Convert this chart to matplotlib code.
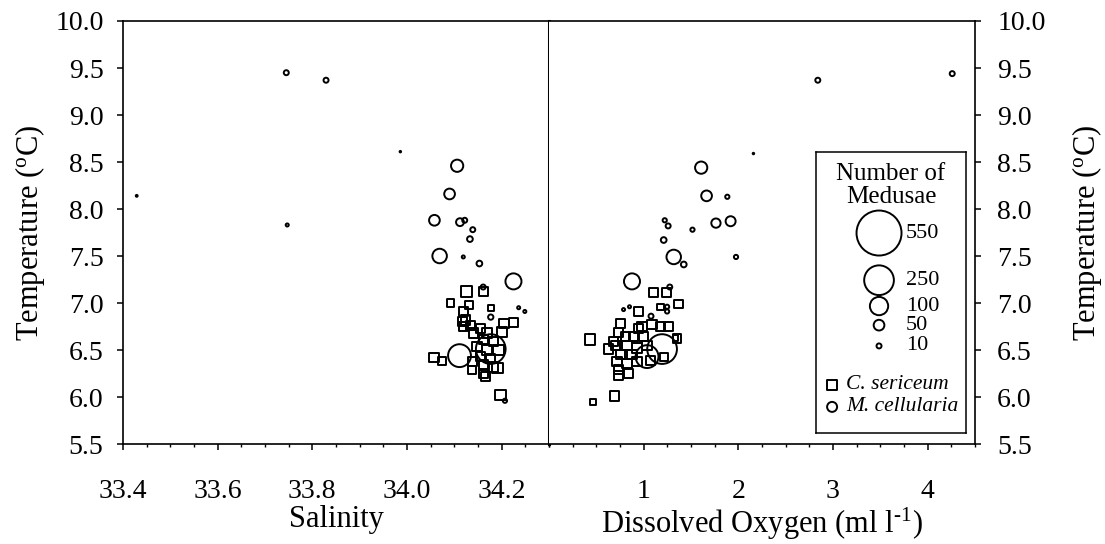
import numpy as np
import matplotlib
matplotlib.use("Agg")
import matplotlib.pyplot as plt
from matplotlib.ticker import MultipleLocator, FormatStrFormatter

plt.rcParams['font.family'] = ['Liberation Serif', 'DejaVu Serif']
plt.rcParams['mathtext.fontset'] = 'custom'
plt.rcParams['mathtext.rm'] = 'Liberation Serif'
plt.rcParams['mathtext.it'] = 'Liberation Serif:italic'

# --- data: (x, temperature, number of medusae) ---
# salinity panel, M. cellularia (circles)
sal_circ_x = [33.745, 33.829, 33.429, 33.747, 33.986, 34.106, 34.090, 34.058, 34.112,
              34.122, 34.139, 34.133, 34.069, 34.119, 34.153, 34.225, 34.236, 34.249,
              34.177, 34.161, 34.111, 34.177, 34.207]
sal_circ_t = [9.45, 9.37, 8.14, 7.83, 8.61, 8.46, 8.16, 7.88, 7.86,
              7.88, 7.78, 7.68, 7.50, 7.49, 7.42, 7.23, 6.95, 6.91,
              6.85, 7.17, 6.44, 6.51, 5.96]
sal_circ_n = [10, 10, 2, 5, 1, 60, 50, 50, 30,
              10, 10, 15, 75, 5, 15, 85, 5, 5,
              12, 10, 160, 250, 8]

# salinity panel, C. sericeum (squares)
sal_sq_x = [34.126, 34.161, 34.092, 34.131, 34.177, 34.120, 34.117, 34.124, 34.205,
            34.225, 34.201, 34.134, 34.120, 34.141, 34.155, 34.169, 34.162, 34.183,
            34.148, 34.169, 34.194, 34.155, 34.177, 34.138, 34.162, 34.183, 34.138,
            34.162, 34.166, 34.191, 34.057, 34.074, 34.198]
sal_sq_t = [7.12, 7.12, 7.00, 6.98, 6.95, 6.91, 6.80, 6.82, 6.78,
            6.79, 6.69, 6.76, 6.75, 6.68, 6.73, 6.68, 6.61, 6.59,
            6.54, 6.50, 6.50, 6.43, 6.41, 6.38, 6.34, 6.32, 6.29,
            6.25, 6.22, 6.31, 6.42, 6.38, 6.02]
sal_sq_n = [50, 40, 30, 30, 15, 40, 40, 40, 40,
            35, 50, 40, 40, 40, 40, 40, 40, 40,
            40, 40, 50, 40, 40, 40, 40, 40, 30,
            40, 40, 50, 40, 30, 50]

# oxygen panel, M. cellularia (circles)
ox_circ_x = [2.84, 4.26, 2.16, 1.608, 1.665, 1.884, 1.223, 1.259, 1.516, 1.764,
             1.919, 1.212, 1.976, 1.318, 1.424, 0.877, 1.276, 0.788, 0.851, 1.248,
             1.248, 1.078, 1.195, 1.036]
ox_circ_t = [9.37, 9.44, 8.59, 8.44, 8.14, 8.13, 7.88, 7.82, 7.78, 7.85,
             7.87, 7.67, 7.49, 7.49, 7.41, 7.23, 7.17, 6.93, 6.96, 6.96,
             6.91, 6.86, 6.51, 6.43]
ox_circ_n = [10, 10, 1, 60, 50, 8, 8, 10, 8, 40,
             45, 15, 8, 75, 15, 85, 10, 5, 5, 8,
             8, 10, 250, 160]

# oxygen panel, C. sericeum (squares)
ox_sq_x = [0.693, 0.463, 1.106, 1.241, 1.371, 0.947, 1.177, 0.435, 0.753, 0.983,
           1.089, 1.177, 1.265, 1.354, 0.947, 0.735, 0.806, 0.894, 1.000, 0.700,
           0.824, 0.930, 1.036, 0.629, 0.682, 0.753, 0.877, 0.718, 0.824, 0.930,
           1.071, 0.735, 0.841, 0.735, 1.336, 1.212]
ox_sq_t = [6.01, 5.95, 7.11, 7.11, 6.99, 6.91, 6.96, 6.61, 6.78, 6.75,
           6.77, 6.75, 6.75, 6.62, 6.73, 6.69, 6.64, 6.64, 6.64, 6.55,
           6.55, 6.52, 6.55, 6.51, 6.59, 6.45, 6.45, 6.38, 6.36, 6.38,
           6.39, 6.29, 6.25, 6.23, 6.63, 6.43]
ox_sq_n = [40, 15, 40, 40, 35, 40, 20, 50, 40, 40,
           40, 40, 40, 35, 40, 40, 40, 40, 40, 40,
           40, 40, 40, 40, 40, 40, 40, 40, 40, 40,
           40, 40, 40, 40, 15, 30]

legend_counts = [550, 250, 100, 50, 10]
species = ['C. sericeum', 'M. cellularia']

# bubble scale taken from the legend (count -> marker diameter in pixels)
scale_n = [1, 10, 50, 100, 250, 550]
scale_px = [1.5, 5, 10.7, 18.3, 29.7, 45]


def bubble(n):
    d = np.interp(n, scale_n, scale_px) * 0.72
    return d ** 2


fig = plt.figure(figsize=(11.05, 5.44), dpi=100)
ax1 = fig.add_axes([0.1113, 0.1838, 0.3855, 0.7776])
ax2 = fig.add_axes([0.4968, 0.1838, 0.3855, 0.7776])

kw = dict(facecolors='none', edgecolors='black', linewidths=1.4)
ax1.scatter(sal_sq_x, sal_sq_t, s=bubble(sal_sq_n), marker='s', **kw)
ax1.scatter(sal_circ_x, sal_circ_t, s=bubble(sal_circ_n), marker='o', **kw)
ax2.scatter(ox_sq_x, ox_sq_t, s=bubble(ox_sq_n), marker='s', **kw)
ax2.scatter(ox_circ_x, ox_circ_t, s=bubble(ox_circ_n), marker='o', **kw)

for ax in (ax1, ax2):
    ax.set_ylim(5.5, 10.0)
    ax.yaxis.set_major_locator(MultipleLocator(0.5))
    ax.yaxis.set_major_formatter(FormatStrFormatter('%.1f'))
    ax.tick_params(which='major', direction='out', length=4, width=1.1, labelsize=20)
    ax.tick_params(which='minor', direction='out', length=2.5, width=1)
    ax.tick_params(axis='x', which='major', pad=21)
    for sp in ax.spines.values():
        sp.set_linewidth(1.2)
    ax.set_ylabel('Temperature ($^{\\mathrm{o}}$C)', fontsize=22)

ax1.set_xlim(33.4, 34.3)
ax1.set_xticks([33.4, 33.6, 33.8, 34.0, 34.2])
ax1.xaxis.set_major_formatter(FormatStrFormatter('%.1f'))
ax1.xaxis.set_minor_locator(MultipleLocator(0.05))
ax1.tick_params(axis='y', pad=10)
ax1.spines['right'].set_linewidth(2.2)
ax1.set_xlabel('Salinity', fontsize=22)
ax1.yaxis.set_label_coords(-0.178, 0.5)
ax1.xaxis.set_label_coords(0.5, -0.145)

ax2.set_xlim(0, 4.5)
ax2.set_xticks([1, 2, 3, 4])
ax2.xaxis.set_minor_locator(MultipleLocator(0.25))
ax2.spines['left'].set_visible(False)
ax2.yaxis.tick_right()
ax2.yaxis.set_label_position('right')
ax2.tick_params(axis='y', pad=12)
ax2.set_xlabel('Dissolved Oxygen (ml l$^{\\text{-}1}$)', fontsize=22)
ax2.yaxis.set_label_coords(1.222, 0.5)
ax2.xaxis.set_label_coords(0.5, -0.145)

# legend box drawn inside the oxygen panel
leg = ax2.inset_axes([0.627, 0.026, 0.352, 0.664])
leg.set_xlim(0, 1)
leg.set_ylim(0, 1)
leg.set_xticks([])
leg.set_yticks([])
for sp in leg.spines.values():
    sp.set_linewidth(1.1)
leg.text(0.5, 0.88, 'Number of\nMedusae', ha='center', va='center',
         fontsize=18, linespacing=1.05)
leg_y = [0.712, 0.544, 0.452, 0.384, 0.31]
leg.scatter([0.42] * len(legend_counts), leg_y, s=bubble(legend_counts), marker='o', **kw)
for yy, n in zip(leg_y, legend_counts):
    leg.text(0.6, yy, str(n), ha='left', va='center', fontsize=16)
leg.scatter([0.107], [0.171], s=(10 * 0.72) ** 2, marker='s', **kw)
leg.scatter([0.107], [0.093], s=(10 * 0.72) ** 2, marker='o', **kw)
leg.text(0.2, 0.171, species[0], ha='left', va='center', fontsize=15.5, style='italic')
leg.text(0.2, 0.093, species[1], ha='left', va='center', fontsize=15.5, style='italic')

fig.savefig('out.png', dpi=100)
